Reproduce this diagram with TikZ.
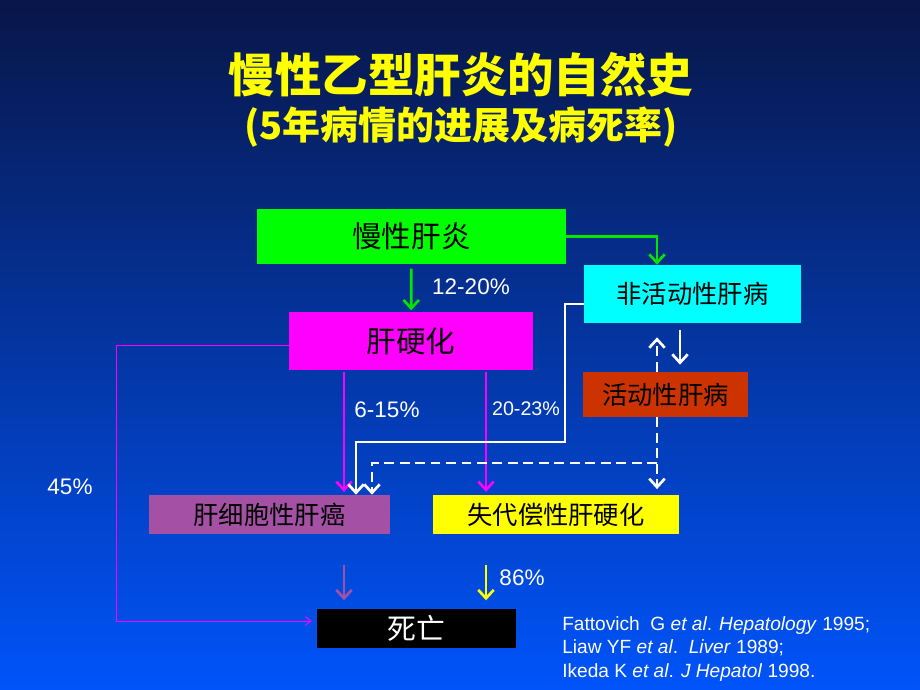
\documentclass[tikz,border=0pt]{standalone}
\usepackage{fontspec}
\setmainfont{Liberation Sans}
\newfontfamily\cjk{Noto Sans CJK SC}
\usetikzlibrary{arrows.meta}
\definecolor{bgtop}{RGB}{8,22,72}
\definecolor{bgbot}{RGB}{0,84,250}
\definecolor{hccpurple}{RGB}{164,80,164}
\definecolor{actred}{RGB}{204,51,0}
\definecolor{arrowgreen}{RGB}{0,230,0}
\definecolor{hepgreen}{RGB}{0,255,0}
\definecolor{inactcyan}{RGB}{0,255,255}
\definecolor{cirrmagenta}{RGB}{255,0,255}
\definecolor{decompyellow}{RGB}{255,255,0}

\begin{document}
\begin{tikzpicture}[x=0.025cm,y=-0.025cm,
  box/.style={inner sep=0pt,font=\cjk\fontsize{18}{18}\selectfont},
  lab/.style={white,font=\fontsize{16}{16}\selectfont},
  arr/.style={-{Straight Barb[length=6pt,width=11pt]},line width=1.9pt},
  wdash/.style={dash pattern=on 7pt off 4pt}]
  \shade[top color=bgtop,bottom color=bgbot] (0,0) rectangle (920,690);
  \useasboundingbox (0,0) rectangle (920,690);
  \node[decompyellow,font=\cjk\bfseries\fontsize{33}{33}\selectfont] (t1) at (461,75) {慢性乙型肝炎的自然史};
  \node[decompyellow,font=\cjk\bfseries\fontsize{27}{27}\selectfont] (t2) at (461,127) {(5年病情的进展及病死率)};
  \node[box,fill=hepgreen,minimum width=7.725cm,minimum height=1.375cm,font=\cjk\fontsize{21}{21}\selectfont] (hep) at (411.5,236.5) {慢性肝炎};
  \node[box,fill=inactcyan,minimum width=5.425cm,minimum height=1.45cm] (inact) at (692.5,294) {非活动性肝病};
  \node[box,fill=cirrmagenta,minimum width=6.1cm,minimum height=1.45cm,font=\cjk\fontsize{21}{21}\selectfont] (cirr) at (411,341) {肝硬化};
  \node[box,fill=actred,minimum width=4.125cm,minimum height=1.125cm] (act) at (665.5,394.5) {活动性肝病};
  \node[box,fill=hccpurple,minimum width=6.025cm,minimum height=0.975cm] (hcc) at (269.5,514.5) {肝细胞性肝癌};
  \node[box,fill=decompyellow,minimum width=6.15cm,minimum height=0.975cm] (decomp) at (556,514.5) {失代偿性肝硬化};
  \node[box,fill=black,text=white,minimum width=4.975cm,minimum height=0.975cm,font=\cjk\fontsize{20.5}{20.5}\selectfont] (death) at (416.5,628.5) {死亡};
  \node[lab] (l1) at (471,287) {12-20\%};
  \node[lab] (l2) at (387,410) {6-15\%};
  \node[lab,font=\fontsize{14}{14}\selectfont] (l3) at (526,409) {20-23\%};
  \node[lab] (l4) at (70,487) {45\%};
  \node[lab] (l5) at (522,578) {86\%};
  \node[anchor=west,align=left,white,inner sep=0pt,font=\fontsize{13.6}{17}\selectfont] (refs) at (562,649)
    {Fattovich\ \ G \textit{et al}. \textit{Hepatology} 1995;\\
     Liaw YF \textit{et al}.\ \ \textit{Liver} 1989;\\
     Ikeda K \textit{et al}. \textit{J Hepatol} 1998.};
  % columns and rows of the connectors
  \coordinate (xa) at (657,0);
  \coordinate (xb) at (680,0);
  \coordinate (xc) at (565,0);
  \coordinate (xd) at (356,0);
  \coordinate (xe) at (372,0);
  \coordinate (xf) at (344,0);
  \coordinate (xg) at (486,0);
  \coordinate (xh) at (116,0);
  \coordinate (ya) at (0,442);
  \coordinate (yb) at (0,463);
  \coordinate (yc) at (0,304);
  \coordinate (yd) at (0,345);
  \coordinate (ye) at (0,621);
  \draw[arr,arrowgreen] (hep.east) -| (xa |- inact.north);
  \draw[arr,arrowgreen,shorten <=3pt,shorten >=1pt] (hep) -- (cirr);
  \draw[arr,cirrmagenta,shorten <=1pt,shorten >=2pt] (xf |- cirr.south) -- (xf |- hcc.north);
  \draw[arr,cirrmagenta,shorten <=1pt,shorten >=2pt] (xg |- cirr.south) -- (xg |- decomp.north);
  \draw[arr,white] (inact.west |- yc) -| (xc |- ya) -| (xd |- hcc.north);
  \draw[arr,white,shorten <=5pt,shorten >=5pt] (xb |- inact.south) -- (xb |- act.north);
  \draw[arr,white,wdash,shorten >=10pt] (xa |- act.north) -- (xa |- inact.south);
  \draw[arr,white,wdash,shorten >=4pt] (xa |- act.south) -- (xa |- decomp.north);
  \draw[arr,white,wdash] (xa |- yb) -| (xe |- hcc.north);
  \draw[-{Straight Barb[length=4pt,width=6pt]},cirrmagenta,line width=0.7pt,shorten >=3.5pt] (cirr.west |- yd) -| (xh |- ye) -- (death.west |- ye);
  \draw[arr,hccpurple,shorten <=22pt,shorten >=6pt] (xf |- hcc.south) -- (xf |- death.north);
  \draw[arr,decompyellow,shorten <=22pt,shorten >=6pt] (xg |- decomp.south) -- (xg |- death.north);
\end{tikzpicture}
\end{document}
